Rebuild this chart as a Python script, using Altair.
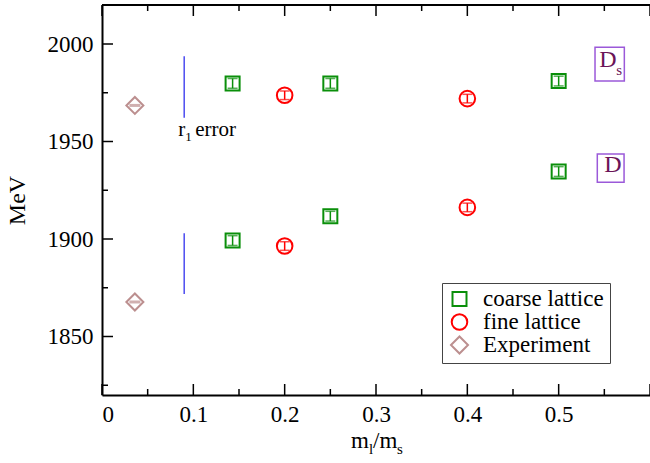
import altair as alt
import pandas as pd

# ---- data -------------------------------------------------------------
series_names = ["coarse lattice", "fine lattice", "Experiment"]
series_colors = ["#0a8f0a", "#ff0000", "#bc8f8f"]
series_shapes = ["square", "circle", "diamond"]
series_sizes = [196, 289, 289]

# coarse ensembles: m_l/m_s, D_s and D masses (MeV), statistical error
coarse_x = [0.143, 0.25, 0.5]
coarse_ds = [1979.8, 1979.8, 1981.0]
coarse_d = [1899.2, 1911.7, 1934.6]
coarse_err = [2.5, 2.5, 2.5]

# fine ensembles
fine_x = [0.2, 0.4]
fine_ds = [1973.7, 1972.0]
fine_d = [1896.4, 1916.2]
fine_err = [2.2, 2.2]

# experimental D_s and D masses at the physical quark mass ratio
exp_x = [0.036, 0.036]
exp_mass = [1968.5, 1867.7]
exp_err = [0.0, 0.0]

# r1 scale uncertainty bars
r1_x = [0.09, 0.09]
r1_lo = [1962.2, 1871.8]
r1_hi = [1993.7, 1902.9]

# axis ticks
x_major = [0.0, 0.1, 0.2, 0.3, 0.4, 0.5, 0.6]
x_minor = [0.05, 0.15, 0.25, 0.35, 0.45, 0.55]
x_labels = [0.0, 0.1, 0.2, 0.3, 0.4, 0.5]
y_major = [1850, 1900, 1950, 2000]
y_minor = [1825, 1875, 1925, 1975]

# meson tags (boxed) and the r1 note
tag_box_x = [0.5398, 0.5423]
tag_box_x2 = [0.5719, 0.5716]
tag_box_y = [1981.0, 1929.1]
tag_box_y2 = [1998.3, 1943.6]

FONT = "Liberation Serif"
W, H = 548, 390

# ---- tables -----------------------------------------------------------
rows = []
for name, xs, masses, errs in [
    ("coarse lattice", coarse_x + coarse_x, coarse_ds + coarse_d, coarse_err + coarse_err),
    ("fine lattice", fine_x + fine_x, fine_ds + fine_d, fine_err + fine_err),
    ("Experiment", exp_x, exp_mass, exp_err),
]:
    for xv, m, e in zip(xs, masses, errs):
        rows.append({"series": name, "x": xv, "mass": m, "lo": m - e, "hi": m + e})
pts = pd.DataFrame(rows)

xs = alt.Scale(domain=[0, 0.6], nice=False, zero=False)
ys = alt.Scale(domain=[1820, 2020], nice=False, zero=False)

x_axis = alt.Axis(
    values=x_labels, format=".1~f", ticks=False, grid=False,
    domain=True, domainColor="black", domainWidth=2,
    labelFont=FONT, labelFontSize=23, labelColor="black", labelPadding=8,
    title=None,
)
y_axis = alt.Axis(
    values=y_major, format="d", ticks=False, grid=False,
    domain=True, domainColor="black", domainWidth=2,
    labelFont=FONT, labelFontSize=23, labelColor="black", labelPadding=9,
    title="MeV", titleFont=FONT, titleFontSize=24, titleFontWeight="normal",
    titleColor="black", titlePadding=18,
)


def X(field):
    return alt.X(f"{field}:Q", scale=xs, axis=x_axis)


def Y(field):
    return alt.Y(f"{field}:Q", scale=ys, axis=y_axis)


layers = []

# error bars of each series
for name, color in zip(series_names, series_colors):
    sub = pts[pts.series == name]
    base = alt.Chart(sub)
    if name == "Experiment":
        layers.append(base.mark_tick(orient="horizontal", size=11, thickness=3, color=color)
                      .encode(x=X("x"), y=Y("mass")))
    else:
        layers.append(base.mark_rule(color=color, strokeWidth=1.5)
                      .encode(x=X("x"), y=Y("lo"), y2="hi"))
        for end in ["lo", "hi"]:
            layers.append(base.mark_tick(orient="horizontal", size=10, thickness=1.5, color=color)
                          .encode(x=X("x"), y=Y(end)))

# symbols
layers.append(
    alt.Chart(pts).mark_point(filled=False, strokeWidth=2, opacity=1).encode(
        x=X("x"), y=Y("mass"),
        color=alt.Color("series:N", scale=alt.Scale(domain=series_names, range=series_colors),
                        legend=alt.Legend(
                            orient="none", legendX=340, legendY=278, title=None,
                            labelFont=FONT, labelFontSize=23, labelColor="black",
                            symbolStrokeWidth=2, symbolSize=250, symbolFillColor="white",
                            strokeColor="#444444", fillColor="white", padding=6,
                            rowPadding=0, clipHeight=20, labelOffset=12)),
        shape=alt.Shape("series:N", scale=alt.Scale(domain=series_names, range=series_shapes)),
        size=alt.Size("series:N", scale=alt.Scale(domain=series_names, range=series_sizes),
                      legend=None),
    )
)

# r1 uncertainty bars
r1 = pd.DataFrame({"x": r1_x, "lo": r1_lo, "hi": r1_hi})
layers.append(alt.Chart(r1).mark_rule(color="#4b4bf0", strokeWidth=1.5)
              .encode(x=X("x"), y=Y("lo"), y2="hi"))

note = pd.DataFrame({"x": [0.0835], "y": [1952.8]})
nb = alt.Chart(note)
layers.append(nb.mark_text(text="r", align="left", baseline="alphabetic", font=FONT,
                           fontSize=21, color="black").encode(x=X("x"), y=Y("y")))
layers.append(nb.mark_text(text="1", align="left", baseline="alphabetic", font=FONT,
                           fontSize=13, color="black", dx=7, dy=5).encode(x=X("x"), y=Y("y")))
layers.append(nb.mark_text(text="error", align="left", baseline="alphabetic", font=FONT,
                           fontSize=21, color="black", dx=17).encode(x=X("x"), y=Y("y")))

# boxed meson tags
boxes = pd.DataFrame({"x": tag_box_x, "x2": tag_box_x2, "y": tag_box_y, "y2": tag_box_y2})
layers.append(alt.Chart(boxes).mark_rect(fill=None, stroke="#9b59d9", strokeWidth=1.5)
              .encode(x=X("x"), x2="x2", y=Y("y"), y2="y2"))

tags = pd.DataFrame({"x": [0.5444, 0.5500], "y": [1988.4, 1934.5], "t": ["D", "D"]})
layers.append(alt.Chart(tags).mark_text(align="left", baseline="alphabetic", font=FONT,
                                        fontSize=24, color="#6b1458")
              .encode(x=X("x"), y=Y("y"), text="t:N"))
layers.append(alt.Chart(tags.iloc[:1]).mark_text(text="s", align="left", baseline="alphabetic",
                                                 font=FONT, fontSize=15, color="#6b1458",
                                                 dx=17, dy=8)
              .encode(x=X("x"), y=Y("y")))

# x-axis title m_l/m_s, written in pieces so the subscripts sit low and small
title_bits = pd.DataFrame({
    "t": ["m", "l", "/m", "s"],
    "px": [249, 267, 271, 295],
    "py": [443, 449, 443, 449],
    "fs": [23, 15, 23, 15],
})
for _, b in title_bits.iterrows():
    layers.append(
        alt.Chart(title_bits.iloc[:1]).mark_text(
            text=b.t, align="left", baseline="alphabetic", font=FONT,
            fontSize=int(b.fs), color="black")
        .encode(x=alt.value(int(b.px)), y=alt.value(int(b.py)))
    )

# inward tick marks on left, bottom and top edges
ymaj = pd.DataFrame({"v": y_major})
ymin = pd.DataFrame({"v": y_minor})
xmaj = pd.DataFrame({"v": x_major})
xmin = pd.DataFrame({"v": x_minor})
TK = dict(color="black", strokeWidth=1.5)
layers += [
    alt.Chart(ymaj).mark_rule(**TK).encode(y=Y("v"), x=alt.value(0), x2=alt.value(11)),
    alt.Chart(ymin).mark_rule(**TK).encode(y=Y("v"), x=alt.value(0), x2=alt.value(6)),
    alt.Chart(xmaj).mark_rule(**TK).encode(x=X("v"), y=alt.value(H), y2=alt.value(H - 11)),
    alt.Chart(xmin).mark_rule(**TK).encode(x=X("v"), y=alt.value(H), y2=alt.value(H - 6)),
    alt.Chart(xmaj).mark_rule(**TK).encode(x=X("v"), y=alt.value(0), y2=alt.value(11)),
    alt.Chart(xmin).mark_rule(**TK).encode(x=X("v"), y=alt.value(0), y2=alt.value(6)),
    # top frame line
    alt.Chart(ymaj.iloc[:1]).mark_rule(color="black", strokeWidth=2)
    .encode(x=alt.value(0), x2=alt.value(W + 2), y=alt.value(0)),
]

chart = (
    alt.layer(*layers)
    .properties(width=W, height=H,
                padding={"left": 102, "top": 5, "right": 0, "bottom": 68},
                autosize=alt.AutoSizeParams(type="none"))
    .configure_view(stroke=None)
    .configure(background="white")
)

chart.save("out.html", embed_options={"renderer": "svg", "actions": False})
